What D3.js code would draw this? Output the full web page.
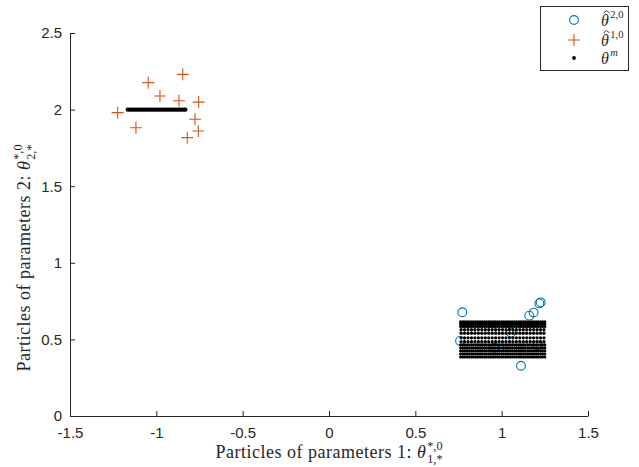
<!DOCTYPE html>
<html lang="en">
<head>
<meta charset="UTF-8">
<title>Particles</title>
<script src="https://cdn.jsdelivr.net/npm/d3@7/dist/d3.min.js"></script>
<style>
    body { margin: 0; background: #fff; }
    svg { display: block; }
    .tick-label { font-family: "Liberation Sans", Arial, sans-serif; font-size: 15px; fill: #262626; }
    .latex { font-family: "Liberation Serif", "DejaVu Serif", serif; fill: #262626; }
</style>
</head>
<body>
<script>
    // canvas
    const width = 639;
    const height = 467;

    // ticks
    const xTicks = [-1.5, -1, -0.5, 0, 0.5, 1, 1.5];
    const yTicks = [0, 0.5, 1, 1.5, 2, 2.5];

    // theta hat 2,0 (circles)
    const theta2X = [0.772, 0.759, 1.054, 0.957, 1.112, 1.160, 1.185, 1.218, 1.226, 1.208];
    const theta2Y = [0.677, 0.490, 0.544, 0.446, 0.328, 0.655, 0.675, 0.735, 0.742, 0.462];

    // theta hat 1,0 (plus)
    const theta1X = [-1.224, -1.047, -0.847, -0.979, -0.869, -0.755, -1.118, -0.776, -0.757, -0.821];
    const theta1Y = [1.980, 2.176, 2.230, 2.089, 2.058, 2.049, 1.882, 1.937, 1.860, 1.817];

    // theta m (dots) - upper left cluster, all on y = 2
    const thetaMTopX = [-1.165, -1.154, -1.142, -1.131, -1.119, -1.108, -1.096, -1.085, -1.073, -1.062,
        -1.050, -1.039, -1.027, -1.016, -1.004, -0.993, -0.981, -0.970, -0.958, -0.947,
        -0.935, -0.924, -0.912, -0.901, -0.889, -0.878, -0.866, -0.855, -0.843, -0.832];
    const thetaMTopY = 2;

    // theta m (dots) - lower right cluster, columns x rows
    const thetaMBlockX = [0.762, 0.775, 0.787, 0.800, 0.812, 0.825, 0.837, 0.850, 0.862, 0.875,
        0.887, 0.900, 0.912, 0.925, 0.937, 0.950, 0.962, 0.975, 0.987, 1.000,
        1.012, 1.025, 1.037, 1.050, 1.062, 1.075, 1.087, 1.100, 1.112, 1.125,
        1.137, 1.150, 1.162, 1.175, 1.187, 1.200, 1.212, 1.225, 1.237, 1.250];
    const thetaMBlockY = [0.385, 0.405, 0.425, 0.445, 0.465, 0.585, 0.600, 0.615];
    // sparser middle rows
    const thetaMMidX = [0.765, 0.785, 0.805, 0.825, 0.845, 0.865, 0.885, 0.905, 0.925, 0.945,
        0.965, 0.985, 1.005, 1.025, 1.045, 1.065, 1.085, 1.105, 1.125, 1.145,
        1.165, 1.185, 1.205, 1.225, 1.245];
    const thetaMMidY = [0.485, 0.510, 0.540, 0.563];

    const margin = {left: 70, right: 51, top: 33, bottom: 51};

    const x = d3.scaleLinear().domain([-1.5, 1.5]).range([margin.left, width - margin.right]);
    const y = d3.scaleLinear().domain([0, 2.5]).range([height - margin.bottom, margin.top]);

    const svg = d3.select('body').append('svg')
        .attr('width', width)
        .attr('height', height);

    const ink = '#262626';
    const blue = '#0072BD';
    const orange = '#D95319';

    // axes (plain hyphen for negative labels, like matlab)
    const fmt = d => String(d);
    const xAxis = d3.axisBottom(x).tickValues(xTicks).tickSizeInner(-5).tickSizeOuter(0).tickFormat(fmt);
    const yAxis = d3.axisLeft(y).tickValues(yTicks).tickSizeInner(-5).tickSizeOuter(0).tickFormat(fmt);

    const gx = svg.append('g').attr('transform', `translate(0,${y(0)})`).call(xAxis);
    const gy = svg.append('g').attr('transform', `translate(${x(-1.5)},0)`).call(yAxis);

    [gx, gy].forEach(g => {
        g.select('.domain').attr('stroke', ink).attr('stroke-width', 1);
        g.selectAll('.tick line').attr('stroke', ink);
        g.selectAll('.tick text').attr('class', 'tick-label').attr('fill', ink);
    });
    gx.selectAll('.tick text').attr('dy', '1.05em').attr('y', 6);
    gy.selectAll('.tick text').attr('x', -8);

    const plot = svg.append('g');

    // circles first
    plot.selectAll('circle.t2')
        .data(d3.range(theta2X.length))
        .join('circle')
        .attr('class', 't2')
        .attr('cx', i => x(theta2X[i]))
        .attr('cy', i => y(theta2Y[i]))
        .attr('r', 4.4)
        .attr('fill', 'none')
        .attr('stroke', blue)
        .attr('stroke-width', 1.1);

    // plus markers
    const plusPath = s => `M${-s},0H${s}M0,${-s}V${s}`;
    plot.selectAll('path.t1')
        .data(d3.range(theta1X.length))
        .join('path')
        .attr('class', 't1')
        .attr('transform', i => `translate(${x(theta1X[i])},${y(theta1Y[i])})`)
        .attr('d', plusPath(6))
        .attr('stroke', orange)
        .attr('stroke-width', 1.1)
        .attr('fill', 'none');

    // dots
    const dots = [];
    thetaMTopX.forEach(v => dots.push([v, thetaMTopY, 2.2]));
    thetaMBlockY.forEach(r => thetaMBlockX.forEach(c => dots.push([c, r, 1.55])));
    thetaMMidY.forEach(r => thetaMMidX.forEach(c => dots.push([c, r, 1.65])));

    plot.selectAll('circle.tm')
        .data(dots)
        .join('circle')
        .attr('class', 'tm')
        .attr('cx', d => x(d[0]))
        .attr('cy', d => y(d[1]))
        .attr('r', d => d[2])
        .attr('fill', '#000');

    // latex-like label: text + theta with stacked super/subscript
    function thetaLabel(g, prefix, sup, sub, size) {
        const t = g.append('text').attr('class', 'latex').attr('font-size', size)
            .attr('letter-spacing', 0.5).attr('x', 0).attr('y', 0);
        t.append('tspan').text(prefix);
        t.append('tspan').attr('font-style', 'italic').text('θ');
        const w = t.node().getComputedTextLength() + 1;
        const a = g.append('text').attr('class', 'latex').attr('font-size', size * 0.68)
            .attr('x', w).attr('y', -size * 0.42).text(sup);
        const b = g.append('text').attr('class', 'latex').attr('font-size', size * 0.68)
            .attr('x', w).attr('y', size * 0.3).text(sub);
        return w + Math.max(a.node().getComputedTextLength(), b.node().getComputedTextLength());
    }

    const xl = svg.append('g');
    const xlw = thetaLabel(xl, 'Particles of parameters 1:  ', '*,0', '1,*', 18);
    xl.attr('transform', `translate(${(x(-1.5) + x(1.5)) / 2 - xlw / 2},${458})`);

    const yl = svg.append('g');
    const ylw = thetaLabel(yl, 'Particles of parameters 2:  ', '*,0', '2,*', 18);
    yl.attr('transform', `translate(30,${258 + ylw / 2}) rotate(-90)`);

    // legend
    const lg = svg.append('g');
    lg.append('rect')
        .attr('x', 540.5).attr('y', 6.5).attr('width', 88).attr('height', 64)
        .attr('fill', '#fff').attr('stroke', ink).attr('stroke-width', 1);

    lg.append('circle').attr('cx', 574).attr('cy', 20).attr('r', 4.4)
        .attr('fill', 'none').attr('stroke', blue).attr('stroke-width', 1.1);
    lg.append('path').attr('transform', 'translate(574,40)').attr('d', plusPath(6))
        .attr('stroke', orange).attr('stroke-width', 1.1);
    lg.append('circle').attr('cx', 574).attr('cy', 58).attr('r', 1.9).attr('fill', '#000');

    const legendItems = [
        {hat: true, sup: '2,0', y: 26},
        {hat: true, sup: '1,0', y: 46},
        {hat: false, sup: 'm', y: 64}
    ];
    legendItems.forEach(it => {
        const t = lg.append('text').attr('class', 'latex').attr('font-size', 16)
            .attr('x', 601).attr('y', it.y);
        t.append('tspan').attr('font-style', 'italic').text('θ');
        t.append('tspan').attr('font-size', 10.5).attr('dx', 1.5).attr('dy', -8)
            .attr('font-style', it.sup === 'm' ? 'italic' : 'normal')
            .text(it.sup);
        if (it.hat) {
            // accent drawn as a tiny path above the theta
            lg.append('path')
                .attr('d', `M${603.5},${it.y - 13}L${606.5},${it.y - 15.5}L${609.5},${it.y - 13}`)
                .attr('fill', 'none').attr('stroke', ink).attr('stroke-width', 0.9);
        }
    });
</script>
</body>
</html>
